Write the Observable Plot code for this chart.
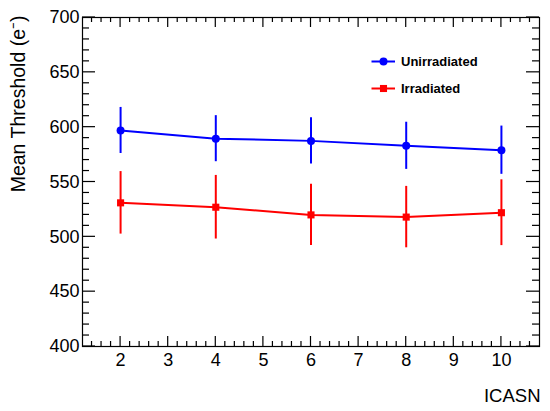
<!DOCTYPE html>
<html>
<head>
<meta charset="utf-8">
<script src="https://cdn.jsdelivr.net/npm/d3@7"></script>
<script src="https://cdn.jsdelivr.net/npm/@observablehq/plot@0.6"></script>
<style>
  html, body { margin: 0; padding: 0; background: #fff; }
</style>
</head>
<body>
<div id="chart"></div>
<script>
// ---- data ----
const icasn = [2, 4, 6, 8, 10];
const seriesNames = ["Unirradiated", "Irradiated"];
const unirradiated = [597, 589.5, 587.5, 583, 579];
const unirradiatedErr = [21, 21, 21, 21.5, 22];
const irradiated = [531, 527, 520, 518, 522];
const irradiatedErr = [28.5, 29, 28, 28, 30];
const seriesColors = ["#0000ff", "#ff0000"];
const seriesSymbols = ["circle", "square"];

const xDomain = [1.2, 10.8];
const yDomain = [400, 700];
const xMajorTicks = [2, 3, 4, 5, 6, 7, 8, 9, 10];
const yMajorTicks = [400, 450, 500, 550, 600, 650, 700];
const xMinorTicks = [1.4, 1.6, 1.8, 2.2, 2.4, 2.6, 2.8, 3.2, 3.4, 3.6, 3.8, 4.2, 4.4, 4.6, 4.8,
  5.2, 5.4, 5.6, 5.8, 6.2, 6.4, 6.6, 6.8, 7.2, 7.4, 7.6, 7.8, 8.2, 8.4, 8.6, 8.8,
  9.2, 9.4, 9.6, 9.8, 10.2, 10.4, 10.6];
const yMinorTicks = [410, 420, 430, 440, 460, 470, 480, 490, 510, 520, 530, 540, 560, 570, 580, 590,
  610, 620, 630, 640, 660, 670, 680, 690];

// ---- tables built from the arrays ----
const rows = [
  ...icasn.map((x, i) => ({series: seriesNames[0], x, y: unirradiated[i], err: unirradiatedErr[i]})),
  ...icasn.map((x, i) => ({series: seriesNames[1], x, y: irradiated[i], err: irradiatedErr[i]}))
];
const yTickRows = [
  ...yMajorTicks.map(v => ({v, len: 13})),
  ...yMinorTicks.map(v => ({v, len: 7}))
];
const xTickRows = [
  ...xMajorTicks.map(v => ({v, len: 10})),
  ...xMinorTicks.map(v => ({v, len: 5}))
];

const W = 550, H = 411, ML = 82, MR = 11, MT = 17, MB = 65;
const FW = W - ML - MR, FH = H - MT - MB;
const font = "'Liberation Sans', Arial, Helvetica, sans-serif";

// one screen pixel expressed in data units of each scale (tick length / thickness)
const pxX = (xDomain[1] - xDomain[0]) / FW;
const pxY = (yDomain[1] - yDomain[0]) / FH;
const TW = 0.6; // half tick thickness in px

// legend (positioned relative to the frame's top-left corner)
const legendMarks = seriesNames.flatMap((s, i) => {
  const dy = 44 + i * 27;
  return [
    Plot.ruleY([s], {y: null, dy: dy - FH / 2, insetLeft: 289.5, insetRight: FW - 313, stroke: seriesColors[i], strokeWidth: 2}),
    Plot.dot([s], {frameAnchor: "top-left", dx: 301, dy, symbol: seriesSymbols[i], fill: seriesColors[i], r: 4}),
    Plot.text([s], {frameAnchor: "top-left", dx: 318.5, dy, text: d => d, textAnchor: "start", lineAnchor: "middle", fontSize: 13, fontWeight: "bold", fill: "black"})
  ];
});

const chart = Plot.plot({
  width: W,
  height: H,
  marginLeft: ML,
  marginRight: MR,
  marginTop: MT,
  marginBottom: MB,
  style: {fontFamily: font, color: "black", background: "white"},
  x: {domain: xDomain, axis: null},
  y: {domain: yDomain, axis: null},
  color: {domain: seriesNames, range: seriesColors},
  symbol: {domain: seriesNames, range: seriesSymbols},
  marks: [
    Plot.frame({stroke: "black", fill: "none", strokeWidth: 1.2}),
    // inward ticks on all four sides, drawn as thin filled rects
    Plot.rect(yTickRows, {x1: d => xDomain[0], x2: d => xDomain[0] + d.len * pxX, y1: d => d.v - TW * pxY, y2: d => d.v + TW * pxY, fill: "black"}),
    Plot.rect(yTickRows, {x1: d => xDomain[1] - d.len * pxX, x2: d => xDomain[1], y1: d => d.v - TW * pxY, y2: d => d.v + TW * pxY, fill: "black"}),
    Plot.rect(xTickRows, {x1: d => d.v - TW * pxX, x2: d => d.v + TW * pxX, y1: d => yDomain[0], y2: d => yDomain[0] + d.len * pxY, fill: "black"}),
    Plot.rect(xTickRows, {x1: d => d.v - TW * pxX, x2: d => d.v + TW * pxX, y1: d => yDomain[1] - d.len * pxY, y2: d => yDomain[1], fill: "black"}),
    // tick labels
    Plot.axisY(yMajorTicks, {anchor: "left", tickSize: 0, tickPadding: 3, fontSize: 18, label: null}),
    Plot.axisX(xMajorTicks, {anchor: "bottom", tickSize: 0, tickPadding: 7, fontSize: 18, label: null}),
    // axis titles
    Plot.text(["ICASN"], {frameAnchor: "bottom-right", text: d => d, textAnchor: "end", lineAnchor: "bottom", dx: 1, dy: 55, fontSize: 18.5}),
    Plot.text(["Mean Threshold (e\u207B)"], {frameAnchor: "top-left", text: d => d, rotate: -90, textAnchor: "end", lineAnchor: "bottom", dx: -57.5, dy: -2, fontSize: 19.5}),
    // data
    Plot.ruleX(rows, {x: "x", y1: d => d.y - d.err, y2: d => d.y + d.err, stroke: "series", strokeWidth: 2}),
    Plot.line(rows, {x: "x", y: "y", z: "series", stroke: "series", strokeWidth: 2}),
    Plot.dot(rows, {x: "x", y: "y", fill: "series", symbol: "series", r: 4, stroke: "none"}),
    // legend
    ...legendMarks
  ]
});
document.getElementById("chart").appendChild(chart);
</script>
</body>
</html>
